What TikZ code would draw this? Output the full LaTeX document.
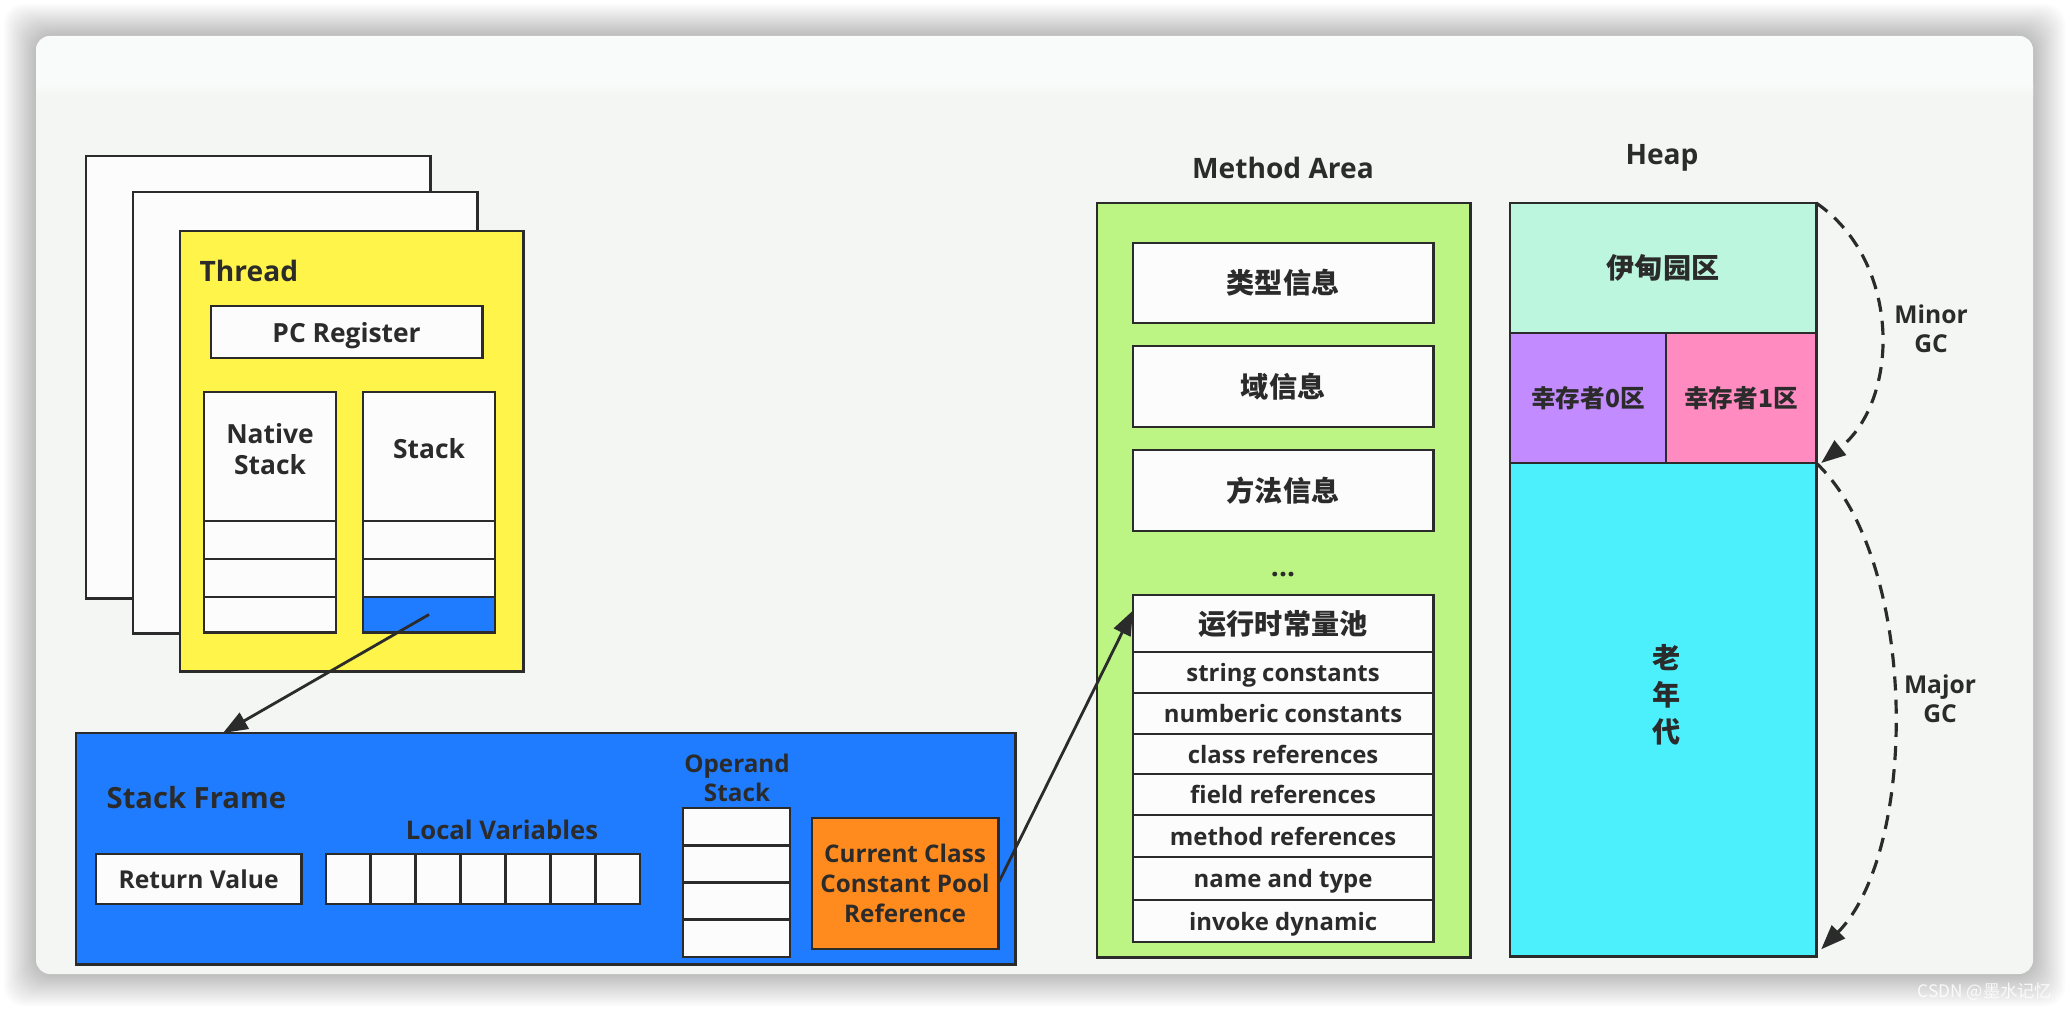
\documentclass[tikz,border=0pt]{standalone}
\usepackage{fontspec}
\setmainfont{Open Sans}
\newfontfamily\cjk{Noto Sans CJK SC}
\usetikzlibrary{arrows.meta}
\definecolor{cardbg}{HTML}{F3F6F3}
\definecolor{cardtop}{HTML}{F8FBF9}
\definecolor{paper}{HTML}{FBFCFB}
\definecolor{ink}{HTML}{2B2B2B}
\definecolor{threadyellow}{HTML}{FFF44A}
\definecolor{frameblue}{HTML}{1F7CFF}
\definecolor{reforange}{HTML}{FF8A1E}
\definecolor{methodgreen}{HTML}{BDF584}
\definecolor{edenmint}{HTML}{BDF6DE}
\definecolor{survpurple}{HTML}{C28BFF}
\definecolor{survpink}{HTML}{FF8BC0}
\definecolor{oldcyan}{HTML}{4CF0FD}
\tikzset{
  box/.style={draw=ink, line width=0.8pt, inner sep=0pt, outer sep=0pt, anchor=north west, fill=paper, text=ink},
  rowbox/.style={box, minimum width=3.00cm, text depth=0pt, font=\fontsize{6.8pt}{8pt}\selectfont\bfseries},
  lbl/.style={inner sep=0pt, text=ink, font=\fontsize{7.5pt}{9pt}\selectfont\bfseries},
  cjklbl/.style={inner sep=0pt, text=ink, font=\cjk\fontsize{8pt}{9.6pt}\selectfont\bfseries},
  arr/.style={draw=ink, line width=0.8pt, -{Triangle[length=7pt,width=5.2pt]}},
  dasharr/.style={draw=ink, line width=0.9pt, dash pattern=on 4pt off 2.6pt, -{Triangle[length=7pt,width=5.2pt]}},
}
\begin{document}
\begin{tikzpicture}[x=0.01cm,y=-0.01cm]
\useasboundingbox (0,0) rectangle (2070,1010);
\fill[white] (0,0) rectangle (2070,1010);
% shadow
\foreach \i in {1,...,16}{
  \fill[black,opacity=0.016,rounded corners=0.2cm] (36-\i*2,36-\i*2) rectangle (2033+\i*2,974+\i*2);
}
% card
\fill[cardbg,rounded corners=0.14cm] (36,36) rectangle (2033,974);
\begin{scope}
  \clip[rounded corners=0.14cm] (36,36) rectangle (2033,974);
  \fill[cardtop] (36,36) rectangle (2033,84);
  \shade[top color=cardtop,bottom color=cardbg] (36,84) rectangle (2033,96);
\end{scope}

% ---------- Thread ----------
\node[box, minimum width=3.44cm, minimum height=4.42cm] (back1) at (86,156) {};
\node[box, minimum width=3.44cm, minimum height=4.41cm] (back2) at (133,192) {};
\node[box, fill=threadyellow, minimum width=3.43cm, minimum height=4.40cm] (thread) at (180,231) {};
\node[lbl, anchor=west, font=\fontsize{8pt}{9.6pt}\selectfont\bfseries] (threadlbl) at (199,271) {Thread};
\node[box, minimum width=2.71cm, minimum height=0.52cm, text depth=0pt, font=\fontsize{7.5pt}{9pt}\selectfont\bfseries] (pc) at (211,306) {PC Register};

\node[box, minimum width=1.32cm, minimum height=2.40cm] (native) at (204,392) {};
\node[box, minimum width=1.32cm, minimum height=0.38cm] (nat1) at (204,521) {};
\node[box, minimum width=1.32cm, minimum height=0.38cm] (nat2) at (204,559) {};
\node[box, minimum width=1.32cm, minimum height=0.35cm] (nat3) at (204,597) {};
\node[lbl, align=center, font=\fontsize{7.5pt}{8.6pt}\selectfont\bfseries] (natlbl) at (270,449) {Native\\Stack};

\node[box, minimum width=1.32cm, minimum height=2.40cm] (stack) at (363,392) {};
\node[box, minimum width=1.32cm, minimum height=0.38cm] (st1) at (363,521) {};
\node[box, minimum width=1.32cm, minimum height=0.38cm] (st2) at (363,559) {};
\node[box, fill=frameblue, minimum width=1.32cm, minimum height=0.35cm] (st3) at (363,597) {};
\node[lbl] (stlbl) at (429,449) {Stack};

% ---------- Stack Frame ----------
\node[box, fill=frameblue, minimum width=9.39cm, minimum height=2.31cm] (frame) at (76,733) {};
\coordinate (frametip) at (223,733);
\node[lbl, anchor=west, font=\fontsize{8.3pt}{10pt}\selectfont\bfseries] (framelbl) at (106,798) {Stack Frame};
\node[box, minimum width=2.05cm, minimum height=0.50cm, text depth=0pt, font=\fontsize{7pt}{8.4pt}\selectfont\bfseries] (retval) at (96,854) {Return Value};
\foreach \k in {0,...,6}{
  \node[box, minimum width=0.4486cm, minimum height=0.50cm] (lv\k) at (326+\k*44.86,854) {};
}
\node[lbl, font=\fontsize{7.3pt}{8.6pt}\selectfont\bfseries] (lvlbl) at (502,830) {Local Variables};
\node[lbl, align=center, font=\fontsize{6.9pt}{8.4pt}\selectfont\bfseries] (oplbl) at (737,778) {Operand\\Stack};
\foreach \k in {0,...,3}{
  \node[box, minimum width=1.07cm, minimum height=0.3725cm] (op\k) at (683,808+\k*37.25) {};
}
\node[box, fill=reforange, minimum width=1.86cm, minimum height=1.31cm, align=center, font=\fontsize{6.9pt}{8.5pt}\selectfont\bfseries] (cref) at (812,818) {Current Class\\Constant Pool\\Reference};

% ---------- Method Area ----------
\node[lbl, font=\fontsize{8pt}{9.6pt}\selectfont\bfseries] (malbl) at (1283,168) {Method Area};
\node[box, fill=methodgreen, minimum width=3.73cm, minimum height=7.54cm] (method) at (1097,203) {};
\node[box, minimum width=3.00cm, minimum height=0.80cm, font=\cjk\fontsize{8pt}{9.6pt}\selectfont\bfseries] (typeinfo) at (1133,243) {类型信息};
\node[box, minimum width=3.00cm, minimum height=0.81cm, font=\cjk\fontsize{8pt}{9.6pt}\selectfont\bfseries] (fieldinfo) at (1133,346) {域信息};
\node[box, minimum width=3.00cm, minimum height=0.81cm, font=\cjk\fontsize{8pt}{9.6pt}\selectfont\bfseries] (methodinfo) at (1133,450) {方法信息};
\node[lbl, font=\fontsize{8pt}{9.6pt}\selectfont\bfseries] (dots) at (1283,575) {...};
\node[box, minimum width=3.00cm, minimum height=0.57cm, font=\cjk\fontsize{8pt}{9.6pt}\selectfont\bfseries] (poolhead) at (1133,595) {运行时常量池};
\node[rowbox, minimum height=0.41cm] (r1) at (1133,652) {string constants};
\node[rowbox, minimum height=0.41cm] (r2) at (1133,693) {numberic constants};
\node[rowbox, minimum height=0.40cm] (r3) at (1133,734) {class references};
\node[rowbox, minimum height=0.41cm] (r4) at (1133,774) {field references};
\node[rowbox, minimum height=0.42cm] (r5) at (1133,815) {method references};
\node[rowbox, minimum height=0.43cm] (r6) at (1133,857) {name and type};
\node[rowbox, minimum height=0.42cm] (r7) at (1133,900) {invoke dynamic};

% ---------- Heap ----------
\node[lbl, font=\fontsize{8pt}{9.6pt}\selectfont\bfseries] (heaplbl) at (1662,158) {Heap};
\node[box, fill=edenmint, minimum width=3.06cm, minimum height=1.30cm, font=\cjk\fontsize{8pt}{9.6pt}\selectfont\bfseries] (eden) at (1510,203) {伊甸园区};
\node[box, fill=survpurple, minimum width=1.56cm, minimum height=1.30cm, font=\cjk\fontsize{7pt}{8.4pt}\selectfont\bfseries] (s0) at (1510,333) {幸存者0区};
\node[box, fill=survpink, minimum width=1.50cm, minimum height=1.30cm, font=\cjk\fontsize{7pt}{8.4pt}\selectfont\bfseries] (s1) at (1666,333) {幸存者1区};
\node[box, fill=oldcyan, minimum width=3.06cm, minimum height=4.93cm] (old) at (1510,463) {};
\node[cjklbl, align=center, font=\cjk\fontsize{8pt}{10.5pt}\selectfont\bfseries] (oldlbl) at (1667,695) {老\\年\\代};

% ---------- connectors ----------
\draw[arr] (st3.center) -- (frametip);
\draw[arr] (cref.east) -- ([yshift=0.13cm]poolhead.west);
\draw[dasharr] (eden.north east) .. controls (1902,262) and (1900,400) .. ([xshift=0.05cm]old.north east);
\draw[dasharr] (old.north east) .. controls (1919,560) and (1919,850) .. ([xshift=0.05cm,yshift=0.07cm]old.south east);
\node[lbl, align=center, font=\fontsize{7pt}{8.2pt}\selectfont\bfseries] (minorlbl) at (1931,329) {Minor\\GC};
\node[lbl, align=center, font=\fontsize{7pt}{8.2pt}\selectfont\bfseries] (majorlbl) at (1940,699) {Major\\GC};

% watermark
\node[inner sep=0pt, anchor=west, text=white, opacity=0.85, font=\cjk\fontsize{4.9pt}{6pt}\selectfont] (wm) at (1917,992) {CSDN @墨水记忆};
\end{tikzpicture}
\end{document}
